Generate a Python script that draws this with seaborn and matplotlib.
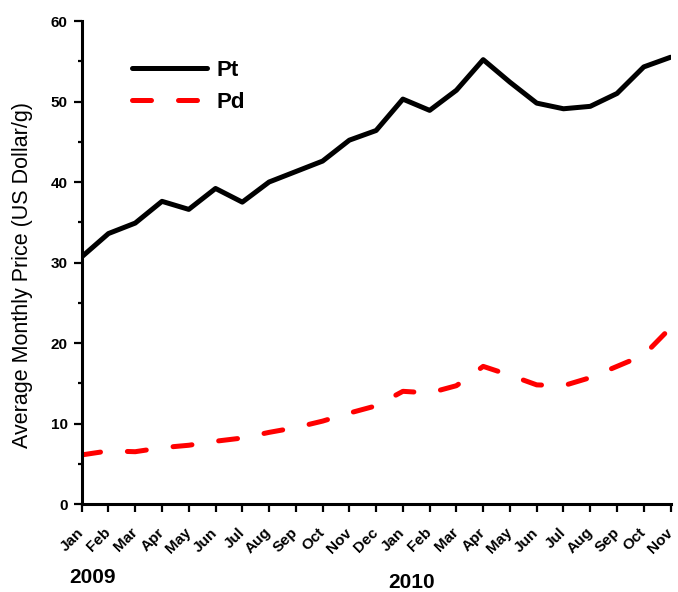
import matplotlib
matplotlib.use("Agg")
import matplotlib.pyplot as plt
from matplotlib.ticker import MultipleLocator
import numpy as np
import pandas as pd
import seaborn as sns

# Monthly labels, Jan 2009 .. Nov 2010
months = ["Jan", "Feb", "Mar", "Apr", "May", "Jun", "Jul", "Aug", "Sep", "Oct",
          "Nov", "Dec", "Jan", "Feb", "Mar", "Apr", "May", "Jun", "Jul", "Aug",
          "Sep", "Oct", "Nov"]
years = ["2009", "2010"]

# Average monthly prices, US Dollar per gram
pt_price = [30.7, 33.6, 34.9, 37.6, 36.6, 39.2, 37.5, 40.0, 41.3, 42.6, 45.2, 46.4,
            50.3, 48.9, 51.4, 55.2, 52.4, 49.8, 49.1, 49.4, 51.0, 54.3, 55.5]
pd_price = [6.1, 6.6, 6.5, 7.0, 7.3, 7.8, 8.2, 8.9, 9.5, 10.3, 11.3, 12.2,
            14.0, 13.8, 14.7, 17.1, 16.0, 14.8, 14.7, 15.7, 17.1, 18.5, 21.9]

sns.set_style("ticks")
plt.rcParams["font.family"] = ["Liberation Sans", "DejaVu Sans"]
plt.rcParams["text.color"] = "black"
plt.rcParams["axes.labelcolor"] = "black"
plt.rcParams["xtick.color"] = "black"
plt.rcParams["ytick.color"] = "black"

idx = np.arange(len(months))
df = pd.DataFrame({"idx": idx, "Pt": pt_price, "Pd": pd_price})

fig = plt.figure(figsize=(6.78, 5.92), dpi=100)
ax = fig.add_axes([0.1205, 0.1486, 0.8685, 0.8159])

sns.lineplot(data=df, x="idx", y="Pt", ax=ax, color="black", linewidth=3.6,
             label="Pt", solid_capstyle="round", solid_joinstyle="round")
sns.lineplot(data=df, x="idx", y="Pd", ax=ax, color="#ff0000", linewidth=3.6,
             label="Pd", linestyle=(0, (3.8, 5.4)), dash_capstyle="round")

ax.set_xlim(0, len(months) - 1)
ax.set_ylim(0, 60)
ax.set_xticks(idx)
ax.set_xticklabels(months, rotation=45, ha="right", va="center",
                   rotation_mode="anchor", fontsize=11, fontweight="bold")
ax.yaxis.set_major_locator(MultipleLocator(10))
ax.yaxis.set_minor_locator(MultipleLocator(5))
for lab in ax.get_yticklabels():
    lab.set_fontsize(11)
    lab.set_fontweight("bold")

ax.tick_params(axis="both", which="major", length=6, width=1.6, direction="out",
               color="black", labelcolor="black", pad=4)
ax.tick_params(axis="y", which="minor", length=3, width=1.6, direction="out",
               color="black")
ax.tick_params(axis="x", which="major", pad=13)

sns.despine(ax=ax, top=True, right=True)
for side in ("left", "bottom"):
    ax.spines[side].set_linewidth(2.2)
    ax.spines[side].set_color("black")

ax.set_xlabel("")
ax.set_ylabel("Average Monthly Price (US Dollar/g)", fontsize=15.5, color="black")
ax.yaxis.set_label_coords(-0.083, 0.475)

leg = ax.legend(loc="upper left", bbox_to_anchor=(0.07, 0.938), frameon=False,
                prop={"size": 16, "weight": "bold"}, handlelength=3.4,
                handletextpad=0.4, labelspacing=0.5, borderaxespad=0)

fig.text(69 / 678, (592 - 583) / 592, years[0], fontsize=15, fontweight="bold",
         ha="left", va="baseline")
fig.text(388 / 678, (592 - 588) / 592, years[1], fontsize=15, fontweight="bold",
         ha="left", va="baseline")

fig.savefig("out.png", dpi=100)
